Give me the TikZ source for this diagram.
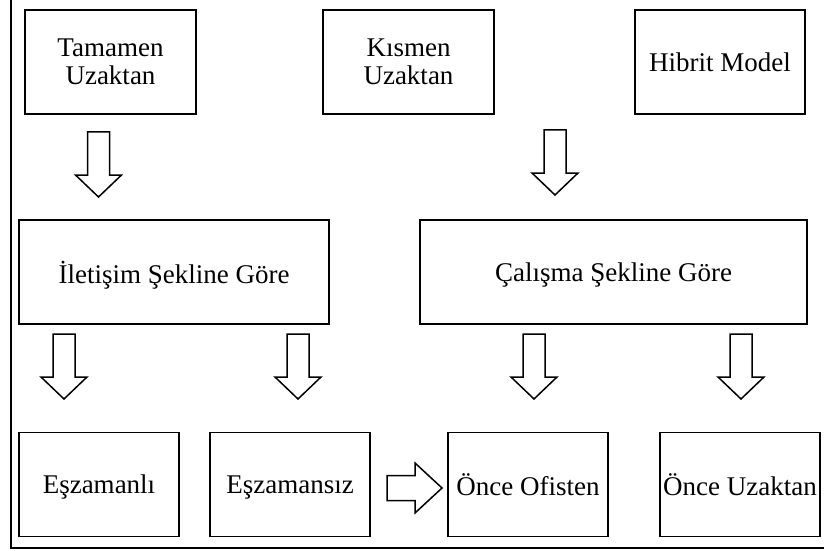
\documentclass[tikz,border=0pt]{standalone}
\usepackage{fontspec}
\setmainfont{Liberation Serif}
\usetikzlibrary{positioning}
\tikzset{
    box/.style = {draw, line width = 0.8pt, align = center, minimum height = 52pt, inner sep = 1pt, font = \fontsize{13.5}{14}\selectfont},
    onebox/.style = {box, text depth = 0pt},
    tipline/.style = {draw, line width = 0.75pt, fill = white, line join = miter},
    downtip/.pic = {\path[tipline] (-11,0) -- (11,0) -- (11,43) -- (23,43) -- (0,65) -- (-23,43) -- (-11,43) -- cycle;},
    righttip/.pic = {\path[tipline] (0,-12.5) -- (28,-12.5) -- (28,-25) -- (55,0) -- (28,25) -- (28,12.5) -- (0,12.5) -- cycle;}
}
\begin{document}
\begin{tikzpicture}
        [
            x = 0.5pt, y = -0.5pt
        ]
        \useasboundingbox (0,0) rectangle (824,551);
        % frame
        \draw[line width = 1.2pt] (11,0) -- (11,548) -- (824,548);
        % top row
        \node[box, minimum width = 85.5pt]      (tamamen)  at (110.5,62)  {Tamamen\\Uzaktan};
        \node[box, minimum width = 85.5pt]      (kismen)   at (408.5,62)  {Kısmen\\Uzaktan};
        \node[onebox, minimum width = 85pt]     (hibrit)   at (720,62)    {Hibrit Model};
        % middle row
        \node[onebox, minimum width = 155pt]    (iletisim) at (174,272)   {İletişim Şekline Göre};
        \node[onebox, minimum width = 193.5pt]  (calisma)  at (613.5,272) {Çalışma Şekline Göre};
        % bottom row
        \node[onebox, minimum width = 80pt]     (eszamanli)  at (99,484.5)  {Eşzamanlı};
        \node[onebox, minimum width = 80pt]     (eszamansiz) at (290,484.5) {Eşzamansız};
        \node[onebox, minimum width = 80pt]     (ofisten)    at (528,484.5) {Önce Ofisten};
        \node[onebox, minimum width = 80pt]     (uzaktan)    at (740,484.5) {Önce Uzaktan};
        % arrows
        \pic at (98.5,132) {downtip};
        \pic at (555,130)  {downtip};
        \pic at (64,334)   {downtip};
        \pic at (298,334)  {downtip};
        \pic at (534,334)  {downtip};
        \pic at (741,334)  {downtip};
        \pic at (387,488)  {righttip};
    \end{tikzpicture}
\end{document}
